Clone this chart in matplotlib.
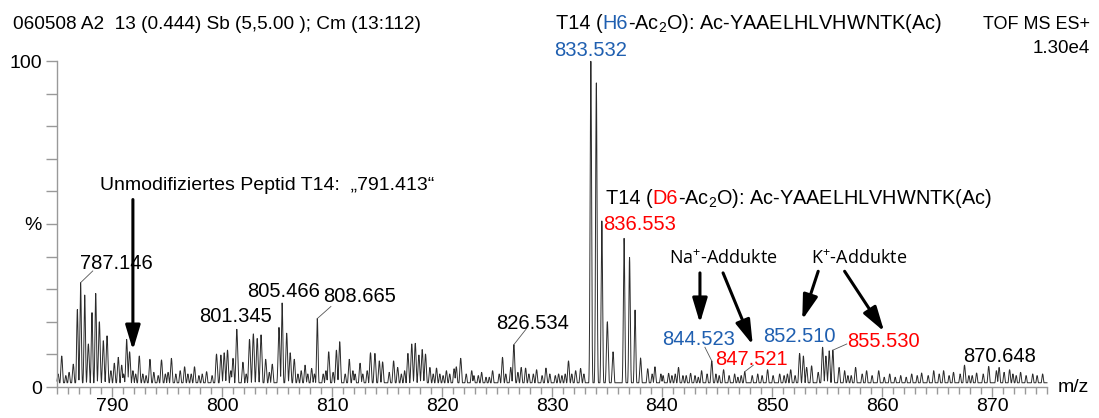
import numpy as np
import matplotlib.pyplot as plt
import matplotlib.transforms as mtransforms
from matplotlib.ticker import MultipleLocator

plt.rcParams['font.family'] = ['Liberation Sans', 'DejaVu Sans']

# centroid list of the spectrum (m/z, relative intensity in %)
peak_mz = [785.43, 786.48, 786.85, 787.146, 787.52, 787.85, 788.18, 788.52, 788.85,
           789.21, 789.55, 790.21, 790.57, 790.88, 791.33, 791.6, 792.48, 793.45,
           794.5, 795.4, 796.6, 797.5, 798.6, 799.5, 799.9, 800.2, 800.5, 801.0,
           801.345, 801.9, 802.5, 802.85, 803.2, 803.55, 803.97, 804.57, 805.18,
           805.466, 805.88, 806.2, 806.57, 807.2, 807.55, 808.15, 808.665, 809.2,
           809.7, 810.4, 810.7, 811.57, 812.1, 812.55, 813.5, 813.9, 814.3, 814.6,
           815.6, 815.97, 816.9, 817.25, 817.57, 817.9, 818.2, 818.5, 818.9, 819.5,
           820.4, 821.1, 821.3, 821.7, 822.7, 823.6, 824.6, 825.5, 826.25, 826.534,
           827.2, 827.6, 828.6, 829.45, 830.6, 831.5, 832.15, 832.6,
           833.532, 834.03, 834.53, 835.03, 835.55,
           836.553, 837.05, 837.55, 838.05, 838.7, 839.36, 839.9, 840.6, 841.5,
           842.6, 843.6, 844.523, 845.6, 846.6, 847.521, 848.7, 849.6, 850.7,
           851.7, 852.51, 852.85, 853.15, 853.6, 854.6, 854.9, 855.2, 855.53,
           856.1, 856.6, 857.6, 858.2, 858.6, 859.7, 860.7, 861.7, 862.7, 863.6,
           864.7, 865.6, 866.5, 867.5, 868.6, 869.7, 870.4, 870.648, 871.6, 872.6,
           873.7, 874.6]
peak_int = [9.5, 7.0, 23.8, 32.0, 28.2, 13.2, 22.8, 28.7, 20.0,
            14.2, 15.7, 7.3, 9.1, 6.7, 14.6, 10.8, 9.5, 8.5,
            8.3, 8.8, 6.2, 6.2, 4.7, 10.1, 9.8, 10.5, 11.3, 8.8,
            17.7, 7.6, 14.6, 16.3, 14.9, 16.0, 8.5, 7.0, 18.3,
            25.8, 16.5, 10.5, 8.5, 5.0, 6.7, 5.7, 21.0, 4.0,
            10.8, 11.3, 13.9, 8.5, 4.0, 7.3, 10.5, 10.3, 8.0, 7.7,
            8.0, 6.0, 10.3, 13.2, 13.4, 9.8, 11.5, 10.1, 6.0, 5.8,
            5.0, 5.6, 6.2, 8.8, 5.0, 4.5, 5.0, 9.1, 6.0, 13.0,
            6.0, 5.8, 5.3, 5.8, 4.0, 8.0, 5.0, 5.7,
            100.0, 93.3, 51.0, 20.0, 10.8,
            45.6, 39.8, 23.6, 8.9, 5.6, 6.2, 4.0, 4.2, 6.0,
            4.2, 5.0, 8.0, 5.3, 4.0, 4.7, 4.0, 5.3, 4.0,
            5.3, 10.3, 9.5, 6.0, 6.5, 12.2, 9.5, 11.1, 11.3,
            6.0, 5.0, 6.0, 4.0, 5.0, 5.0, 4.0, 3.5, 4.0, 4.3,
            5.0, 5.0, 4.5, 6.7, 4.3, 6.3, 5.0, 6.0, 5.3, 4.5,
            4.0, 4.0]

# small baseline signals between the main peaks
minor_mz = [785.1, 785.8, 786.1, 789.9, 791.05, 791.9, 792.15, 792.8, 793.1, 793.8,
            794.2, 794.85, 795.1, 795.8, 796.2, 796.9, 797.2, 797.9, 798.2, 799.1,
            800.8, 802.2, 804.3, 806.9, 807.8, 808.4, 809.45, 810.1, 811.2, 811.9,
            812.8, 813.2, 815.2, 816.3, 816.6, 819.2, 819.8, 820.1, 820.7, 822.2,
            822.9, 823.3, 824.0, 824.3, 825.2, 825.8, 826.9, 827.9, 828.3, 829.1,
            829.8, 830.3, 830.9, 831.2, 831.8, 832.9, 839.1, 840.1, 840.9, 841.2,
            841.9, 842.2, 843.0, 843.3, 844.1, 844.9, 845.2, 846.1, 846.9, 847.2,
            848.2, 849.1, 850.1, 851.1, 851.4, 852.1, 854.2, 856.9, 857.2, 859.1,
            860.2, 861.2, 862.2, 863.2, 864.2, 865.2, 866.1, 867.1, 867.9, 868.2,
            869.2, 871.1, 871.9, 872.2, 873.1, 874.1]
minor_int = [4.0, 3.5, 4.5, 5.0, 4.0, 5.0, 4.0, 4.0, 3.5, 4.5,
             3.5, 4.0, 4.5, 4.0, 5.0, 4.0, 4.0, 3.5, 4.0, 3.5,
             5.0, 4.0, 4.5, 4.0, 4.0, 4.0, 5.0, 4.5, 4.0, 5.0,
             4.0, 5.0, 4.5, 4.0, 5.0, 4.0, 4.0, 3.5, 4.0, 4.0,
             3.5, 3.5, 3.0, 3.0, 4.0, 4.0, 4.5, 4.0, 4.0, 3.5,
             4.0, 3.5, 3.5, 4.0, 4.0, 4.0, 4.0, 3.5, 3.5, 4.0,
             3.5, 3.5, 3.5, 3.0, 4.0, 4.0, 3.5, 3.5, 3.0, 3.5,
             3.5, 3.5, 3.5, 3.5, 4.0, 3.5, 4.5, 3.5, 3.5, 3.5,
             3.0, 3.0, 3.0, 3.5, 3.5, 4.0, 3.5, 4.0, 3.5, 3.5,
             4.0, 4.5, 4.0, 3.5, 3.5, 3.5]

# labelled peaks: value, text colour, label position, leader end (or None)
labels = [
    (787.146, 'black', (790.4, 37.9), (788.25, 35.6)),
    (801.345, 'black', (801.2, 21.6), None),
    (805.466, 'black', (805.6, 29.2), None),
    (808.665, 'black', (812.5, 27.7), (809.9, 24.7)),
    (826.534, 'black', (828.2, 19.5), (827.7, 18.0)),
    (833.532, '#1f5fb0', (833.55, 103.3), None),
    (836.553, 'red', (838.0, 50.0), None),
    (844.523, '#1f5fb0', (843.3, 14.7), (843.9, 12.2)),
    (847.521, 'red', (848.15, 8.5), (848.3, 6.7)),
    (852.510, '#1f5fb0', (852.5, 15.4), None),
    (855.530, 'red', (860.15, 13.9), (856.8, 13.2)),
    (870.648, 'black', (870.7, 9.3), None),
]

xticks = [790, 800, 810, 820, 830, 840, 850, 860, 870]

fig = plt.figure(figsize=(10.99, 4.18), dpi=100)
ax = fig.add_axes([57 / 1099, 31 / 418, 990 / 1099, 326 / 418])

# profile spectrum from the centroids
mz = np.linspace(785.0, 875.0, 12000)
prof = np.full_like(mz, 1.3)
for m, h in zip(peak_mz + minor_mz, peak_int + minor_int):
    sigma = 0.065 if h > 20 else 0.08
    prof = np.maximum(prof, h * np.exp(-0.5 * ((mz - m) / sigma) ** 2))
ax.plot(mz, prof, color='#2b2b2b', lw=0.7, clip_on=False)

ax.set_xlim(785, 875)
ax.set_ylim(0, 100)
for s in ['top', 'right']:
    ax.spines[s].set_visible(False)
for s in ['left', 'bottom']:
    ax.spines[s].set_color('#999999')
    ax.spines[s].set_linewidth(1.0)

ax.set_xticks(xticks)
ax.set_xticklabels([str(t) for t in xticks], fontsize=14)
ax.xaxis.set_minor_locator(MultipleLocator(1))
ax.set_yticks(range(0, 101, 10))
ax.set_yticklabels(['0', '', '', '', '', '%', '', '', '', '', '100'], fontsize=14)
ax.tick_params(axis='y', which='major', direction='out', length=8, width=1,
               color='#999999', pad=3)
ax.tick_params(axis='x', which='major', direction='out', length=7, width=1,
               color='#999999', pad=1)
ax.tick_params(axis='x', which='minor', direction='out', length=5, width=1,
               color='#999999')

fig.text(1058 / 1099, 1 - 387 / 418, 'm/z', fontsize=14, va='center', ha='left')

# peak labels and leader lines
peak_lookup = dict(zip(peak_mz, peak_int))
for val, col, (tx, ty), lead in labels:
    ax.text(tx, ty, f'{val:.3f}', color=col, fontsize=14.5, ha='center', va='center')
    if lead is not None:
        ax.plot([val, lead[0]], [peak_lookup[val], lead[1]], color='#555555',
                lw=0.6, clip_on=False)


def draw_parts(x, y, parts, size=14.3, **kw):
    """Write text pieces of different colours one after another."""
    r = fig.canvas.get_renderer()
    dx = 0
    for s, c in parts:
        tr = mtransforms.offset_copy(fig.transFigure, fig=fig, x=dx, y=0, units='dots')
        t = fig.text(x, y, s, color=c, fontsize=size, va='baseline', transform=tr, **kw)
        dx += t.get_window_extent(r).width


# header lines
fig.text(13 / 1099, 1 - 29 / 418, '060508 A2  13 (0.444) Sb (5,5.00 ); Cm (13:112)',
         fontsize=13.7, va='baseline')
draw_parts(556 / 1099, 1 - 29 / 418,
           [('T14 (', 'black'), ('H6', '#1f5fb0'),
            (r'-Ac$_\mathregular{2}$O): Ac-YAAELHLVHWNTK(Ac)', 'black')])
fig.text(1090 / 1099, 1 - 29 / 418, 'TOF MS ES+', fontsize=13, va='baseline', ha='right')
fig.text(1090 / 1099, 1 - 53 / 418, '1.30e4', fontsize=13.5, va='baseline', ha='right')
draw_parts(606 / 1099, 1 - 204 / 418,
           [('T14 (', 'black'), ('D6', 'red'),
            (r'-Ac$_\mathregular{2}$O): Ac-YAAELHLVHWNTK(Ac)', 'black')])

# annotation arrows
arrow_kw = dict(arrowstyle='-|>,head_length=1.5,head_width=0.45', color='black',
                lw=2.2, shrinkA=0, shrinkB=0, mutation_scale=10)
ax.text(788.9, 61.7, 'Unmodifiziertes Peptid T14:  \u201e791.413\u201c', fontsize=14,
        va='center', ha='left')
ax.annotate('', xy=(791.9, 11.3), xytext=(791.9, 57.5), arrowprops=arrow_kw,
            annotation_clip=False)

ax.text(845.6, 39.3, r'Na$^\mathregular{+}$-Addukte', fontsize=13, family='Open Sans',
        ha='center', va='center')
ax.text(857.9, 39.3, r'K$^\mathregular{+}$-Addukte', fontsize=13, family='Open Sans',
        ha='center', va='center')
for tail, head in [((843.45, 35.0), (843.45, 19.6)),
                   ((845.55, 35.0), (848.25, 12.9)),
                   ((854.2, 35.5), (852.75, 20.6)),
                   ((856.6, 35.5), (860.2, 17.0))]:
    ax.annotate('', xy=head, xytext=tail, arrowprops=arrow_kw, annotation_clip=False)

fig.savefig('out.png', dpi=100)
